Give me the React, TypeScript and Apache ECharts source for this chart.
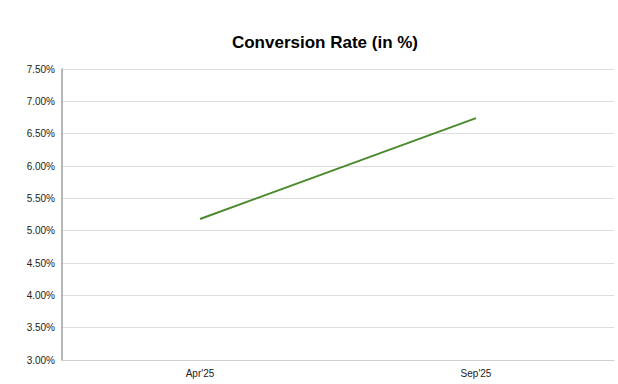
import React, { useEffect, useRef } from "react";
import * as echarts from "echarts";

const categories = ["Apr'25", "Sep'25"];
const conversionRate = [5.18, 6.74];
const yMin = 3;
const yMax = 7.5;
const yStep = 0.5;

export default function App() {
  const ref = useRef<HTMLDivElement>(null);
  useEffect(() => {
    document.body.style.margin = "0";
    document.body.style.overflow = "hidden";
    if (!ref.current) return;
    const chart = echarts.init(ref.current, null, { renderer: "svg" });
    chart.setOption({
      animation: false,
      backgroundColor: "#ffffff",
      title: {
        text: "Conversion Rate (in %)",
        left: 320,
        textAlign: "center",
        top: 29,
        textStyle: {
          fontFamily: "Liberation Sans, Arial, sans-serif",
          fontSize: 17,
          fontWeight: "bold",
          color: "#000000",
        },
      },
      grid: { left: 62, right: 4, top: 69, bottom: 24, containLabel: false },
      xAxis: {
        type: "category",
        data: categories,
        boundaryGap: true,
        axisLine: { show: true, lineStyle: { color: "#d0d0d0", width: 1 } },
        axisTick: { show: false },
        axisLabel: {
          color: "#222222",
          fontFamily: "Liberation Sans, Arial, sans-serif",
          fontSize: 10,
          margin: 8,
        },
        splitLine: { show: false },
      },
      yAxis: {
        type: "value",
        min: yMin,
        max: yMax,
        interval: yStep,
        axisLine: { show: true, lineStyle: { color: "#a0a0a0", width: 1.5 } },
        axisTick: { show: false },
        axisLabel: {
          color: "#222222",
          fontFamily: "Liberation Sans, Arial, sans-serif",
          fontSize: 10,
          margin: 7,
          formatter: (v: number) => v.toFixed(2) + "%",
        },
        splitLine: { show: true, lineStyle: { color: "#dedede", width: 1 } },
      },
      series: [
        {
          type: "line",
          data: conversionRate,
          symbol: "none",
          lineStyle: { color: "#4a8a2c", width: 2 },
          itemStyle: { color: "#4a8a2c" },
        },
      ],
    });
    return () => chart.dispose();
  }, []);
  return (
    <div
      ref={ref}
      style={{ position: "fixed", left: 0, top: 0, width: 618, height: 384 }}
    />
  );
}
